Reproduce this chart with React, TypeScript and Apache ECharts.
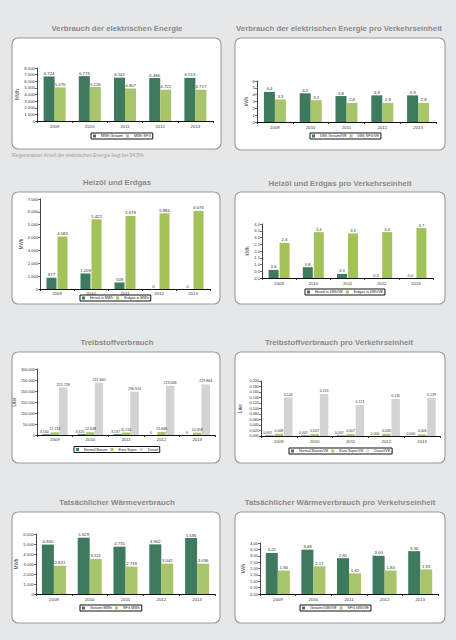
import React, { useEffect, useRef } from "react";
import * as echarts from "echarts";

const years = ["2009", "2010", "2011", "2012", "2013"];

const elGesamt = [6724, 6773, 6542, 6486, 6513];
const elSfg = [5076, 5126, 4907, 4722, 4717];
const elVeGesamt = [4.4, 4.2, 3.8, 3.9, 3.9];
const elVeSfg = [3.3, 3.2, 2.8, 2.8, 2.8];
const heizoel = [877, 1209, 509, 0, 0];
const erdgas = [4083, 5422, 5679, 5884, 6076];
const heizoelVe = [0.6, 0.8, 0.3, 0.0, 0.0];
const erdgasVe = [2.6, 3.4, 3.3, 3.4, 3.7];
const benzin = [3140, 3625, 3237, 0, 0];
const euroSuper = [12133, 12648, 11216, 13848, 10358];
const diesel = [215728, 237660, 196914, 223608, 229864];
const benzinVe = [0.002, 0.002, 0.002, 0.0, 0.0];
const superVe = [0.008, 0.007, 0.007, 0.008, 0.006];
const dieselVe = [0.14, 0.153, 0.113, 0.135, 0.139];
const waermeGesamt = [4940, 5629, 4735, 4962, 5596];
const waermeSfg = [2821, 3511, 2739, 3042, 3036];
const waermeVeGesamt = [3.22, 3.48, 2.81, 3.0, 3.36];
const waermeVeSfg = [1.84, 2.17, 1.62, 1.84, 1.93];

const noteText = "Regenerativer Anteil der elektrischen Energie liegt bei 94,5%";

const DARK = "#3d7a5e";
const LIGHT = "#a9c56b";
const GAS = "#a3c25a";
const GRAY = "#d2d3d5";
const FONT = "'Liberation Sans', Arial, sans-serif";

function de(v: number, d: number): string {
  const s = Math.abs(v).toFixed(d);
  const [i, f] = s.split(".");
  const ii = i.replace(/\B(?=(\d{3})+(?!\d))/g, ".");
  return (v < 0 ? "-" : "") + (f ? ii + "," + f : ii);
}

type S = { name: string; data: number[]; color: string };
type Spec = {
  title: string;
  tx: number;
  ty: number;
  panel: [number, number, number, number];
  grid: [number, number, number, number];
  yMax: number;
  yInt: number;
  yDec: number;
  lDec: number;
  yName: string;
  nameGap: number;
  lx: number;
  ly: number;
  bw: number;
  gap: string;
  lfs: number;
  afs: number;
  xm: number;
  series: S[];
};

const specs: Spec[] = [
  {
    title: "Verbrauch der elektrischen Energie", tx: 117, ty: 28,
    panel: [12, 38, 209, 111], grid: [37, 68, 176, 53],
    yMax: 8000, yInt: 1000, yDec: 0, lDec: 0, yName: "MWh", nameGap: 15,
    lx: 91, ly: 133, bw: 11, gap: "0%", lfs: 4.3, afs: 4.3, xm: 3,
    series: [
      { name: "MWh Gesamt", data: elGesamt, color: DARK },
      { name: "MWh SFG", data: elSfg, color: LIGHT },
    ],
  },
  {
    title: "Verbrauch der elektrischen Energie pro Verkehrseinheit", tx: 339, ty: 28,
    panel: [235, 38, 210, 112], grid: [257, 81, 179, 41],
    yMax: 6, yInt: 1, yDec: 0, lDec: 1, yName: "kWh", nameGap: 8,
    lx: 310, ly: 133, bw: 11, gap: "0%", lfs: 4.3, afs: 4.3, xm: 3,
    series: [
      { name: "kWh Gesamt/VE", data: elVeGesamt, color: DARK },
      { name: "kWh SFG/VE", data: elVeSfg, color: LIGHT },
    ],
  },
  {
    title: "Heizöl und Erdgas", tx: 117, ty: 182,
    panel: [12, 192, 208, 112], grid: [40, 199, 170, 90],
    yMax: 7000, yInt: 1000, yDec: 0, lDec: 0, yName: "MWh", nameGap: 15,
    lx: 80, ly: 295, bw: 10, gap: "10%", lfs: 4.3, afs: 4.1, xm: 2,
    series: [
      { name: "Heizöl in MWh", data: heizoel, color: DARK },
      { name: "Erdgas in MWh", data: erdgas, color: GAS },
    ],
  },
  {
    title: "Heizöl und Erdgas pro Verkehrseinheit", tx: 340, ty: 183,
    panel: [235, 192, 210, 112], grid: [262, 224, 171, 54],
    yMax: 4, yInt: 0.5, yDec: 1, lDec: 1, yName: "kWh", nameGap: 11,
    lx: 305, ly: 289, bw: 10, gap: "10%", lfs: 4.1, afs: 4.1, xm: 3,
    series: [
      { name: "Heizöl in kWh/VE", data: heizoelVe, color: DARK },
      { name: "Erdgas in kWh/VE", data: erdgasVe, color: GAS },
    ],
  },
  {
    title: "Treibstoffverbrauch", tx: 117, ty: 342,
    panel: [12, 352, 208, 111], grid: [37, 369, 178, 66],
    yMax: 300000, yInt: 50000, yDec: 0, lDec: 0, yName: "Liter", nameGap: 18,
    lx: 74, ly: 446.5, bw: 8.5, gap: "0%", lfs: 3.6, afs: 3.9, xm: 2,
    series: [
      { name: "Normal Benzin", data: benzin, color: DARK },
      { name: "Euro Super", data: euroSuper, color: LIGHT },
      { name: "Diesel", data: diesel, color: GRAY },
    ],
  },
  {
    title: "Treibstoffverbrauch pro Verkehrseinheit", tx: 339, ty: 342,
    panel: [235, 352, 210, 111], grid: [261, 381, 179, 55],
    yMax: 0.2, yInt: 0.02, yDec: 3, lDec: 3, yName: "Liter", nameGap: 18,
    lx: 289, ly: 448, bw: 8.5, gap: "10%", lfs: 3.5, afs: 3.8, xm: 3,
    series: [
      { name: "Normal Benzin/VE", data: benzinVe, color: DARK },
      { name: "Euro Super/VE", data: superVe, color: LIGHT },
      { name: "Diesel/VE", data: dieselVe, color: GRAY },
    ],
  },
  {
    title: "Tatsächlicher Wärmeverbrauch", tx: 117, ty: 502,
    panel: [12, 512, 208, 111], grid: [36, 534, 179, 60],
    yMax: 6000, yInt: 1000, yDec: 0, lDec: 0, yName: "MWh", nameGap: 17,
    lx: 80, ly: 605, bw: 12, gap: "0%", lfs: 4.3, afs: 4.3, xm: 3,
    series: [
      { name: "Gesamt MWh", data: waermeGesamt, color: DARK },
      { name: "SFG MWh", data: waermeSfg, color: LIGHT },
    ],
  },
  {
    title: "Tatsächlicher Wärmeverbrauch pro Verkehrseinheit", tx: 340, ty: 502,
    panel: [235, 512, 210, 111], grid: [260, 543, 178, 51],
    yMax: 4, yInt: 0.5, yDec: 2, lDec: 2, yName: "kWh", nameGap: 13,
    lx: 300, ly: 605, bw: 12, gap: "0%", lfs: 4.3, afs: 4.1, xm: 3,
    series: [
      { name: "Gesamt kWh/VE", data: waermeVeGesamt, color: DARK },
      { name: "SFG kWh/VE", data: waermeVeSfg, color: LIGHT },
    ],
  },
];

export default function App() {
  const ref = useRef<HTMLDivElement>(null);
  useEffect(() => {
    document.body.style.margin = "0";
    if (!ref.current) return;
    const chart = echarts.init(ref.current, undefined, { renderer: "svg" });

    const graphic: any[] = [];
    specs.forEach((s) => {
      graphic.push({
        type: "rect",
        z: -10,
        shape: { x: s.panel[0], y: s.panel[1], width: s.panel[2], height: s.panel[3], r: 6 },
        style: { fill: "#ffffff", stroke: "#9a9a9a", lineWidth: 1.1 },
      });
      graphic.push({
        type: "text",
        z: -5,
        x: s.tx,
        y: s.ty,
        style: {
          text: s.title,
          fill: "#8a8a8a",
          fontSize: 7.8,
          fontWeight: "bold",
          fontFamily: FONT,
          align: "center",
          verticalAlign: "middle",
          textAlign: "center",
          textVerticalAlign: "middle",
        },
      });
    });
    graphic.push({
      type: "text",
      x: 12,
      y: 155,
      style: {
        text: noteText,
        fill: "#a0a0a0",
        fontSize: 4.9,
        fontFamily: FONT,
        align: "left",
        verticalAlign: "middle",
        textAlign: "left",
        textVerticalAlign: "middle",
      },
    });

    const option: any = {
      animation: false,
      backgroundColor: "#e6e7e8",
      textStyle: { fontFamily: FONT },
      graphic,
      grid: specs.map((s) => ({
        left: s.grid[0],
        top: s.grid[1],
        width: s.grid[2],
        height: s.grid[3],
        containLabel: false,
      })),
      xAxis: specs.map((s, i) => ({
        type: "category",
        gridIndex: i,
        data: years,
        axisLine: { show: true, lineStyle: { color: "#111", width: 1.2 } },
        axisTick: { show: true, length: 2, lineStyle: { color: "#111", width: 0.8 } },
        axisLabel: { fontSize: 4.3, color: "#333", margin: s.xm, fontFamily: FONT },
        splitLine: { show: false },
      })),
      yAxis: specs.map((s, i) => ({
        type: "value",
        gridIndex: i,
        min: 0,
        max: s.yMax,
        interval: s.yInt,
        name: s.yName,
        nameLocation: "middle",
        nameRotate: 90,
        nameGap: s.nameGap,
        nameTextStyle: { fontSize: 4.5, color: "#333", fontFamily: FONT },
        axisLine: { show: true, lineStyle: { color: "#111", width: 0.8 } },
        axisTick: { show: true, length: 2, lineStyle: { color: "#111", width: 0.6 } },
        axisLabel: {
          fontSize: s.afs,
          color: "#333",
          margin: 2,
          fontFamily: FONT,
          formatter: (v: number) => de(v, s.yDec),
        },
        splitLine: { show: false },
      })),
      legend: specs.map((s) => ({
        data: s.series.map((x) => x.name),
        left: s.lx,
        top: s.ly,
        orient: "horizontal",
        icon: "rect",
        itemWidth: 3,
        itemHeight: 3,
        itemGap: 3,
        padding: [1, 2, 1, 2],
        backgroundColor: "#ffffff",
        borderColor: "#111",
        borderWidth: 1,
        borderRadius: 0,
        textStyle: { fontSize: 3.6, color: "#222", fontFamily: FONT },
        selectedMode: false,
      })),
      series: specs.flatMap((s, i) =>
        s.series.map((x, k) => ({
          type: "bar",
          name: x.name,
          xAxisIndex: i,
          yAxisIndex: i,
          data: x.data,
          barWidth: s.bw,
          barGap: s.gap,
          itemStyle: { color: x.color },
          label: {
            show: true,
            position: "top",
            distance: s.series.length === 3 && k === 0 ? 0.5 : 1,
            offset: s.series.length === 3 && k === 0 ? [-2, 0] : [0, 0],
            fontSize: s.lfs,
            color: "#333",
            fontFamily: FONT,
            formatter: (p: any) => de(p.value, s.lDec),
          },
        }))
      ),
    };
    chart.setOption(option);
    return () => chart.dispose();
  }, []);
  return <div ref={ref} style={{ width: 456, height: 640 }} />;
}
